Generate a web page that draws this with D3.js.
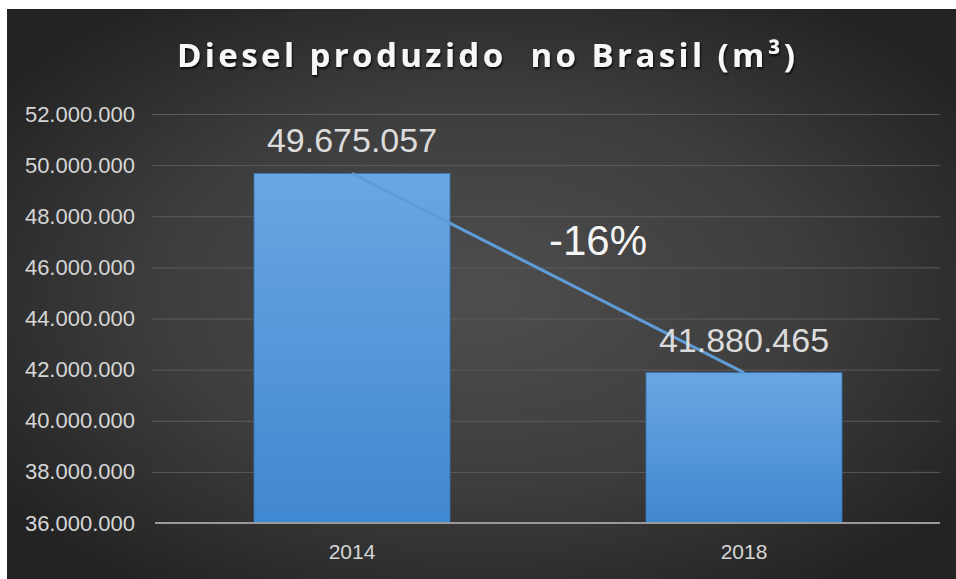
<!DOCTYPE html>
<html>
<head>
<meta charset="utf-8">
<script src="https://cdn.jsdelivr.net/npm/d3@7"></script>
<style>
    body { margin: 0; background: #fff; }
    svg { display: block; }
</style>
</head>
<body>
<div id="chart"></div>
<script>
    // data
    var years = ["2014", "2018"];
    var volumes = [49675057, 41880465];
    var yTicks = [36000000, 38000000, 40000000, 42000000, 44000000, 46000000, 48000000, 50000000, 52000000];
    var changeLabel = "-16%";
    var title = "Diesel produzido  no Brasil (m³)";

    var width = 956,
        height = 579,
        plotLeft = 152,
        plotRight = 940,
        plotTop = 114,
        plotBottom = 523;

    var br = d3.formatLocale({decimal: ",", thousands: ".", grouping: [3], currency: ["R$", ""]});
    var fmt = br.format(",d");

    var svg = d3.select("#chart")
        .append("svg")
        .attr("width", width)
        .attr("height", height);

    var defs = svg.append("defs");

    var bg = defs.append("radialGradient")
        .attr("id", "bg")
        .attr("cx", "50%").attr("cy", "50%").attr("r", "62%");
    bg.append("stop").attr("offset", "0%").attr("stop-color", "#4e4e4e");
    bg.append("stop").attr("offset", "55%").attr("stop-color", "#3d3d3d");
    bg.append("stop").attr("offset", "100%").attr("stop-color", "#232323");

    var barGrad = defs.append("linearGradient")
        .attr("id", "barGrad")
        .attr("x1", 0).attr("y1", 0).attr("x2", 0).attr("y2", 1);
    barGrad.append("stop").attr("offset", "0%").attr("stop-color", "#6aa6e1");
    barGrad.append("stop").attr("offset", "100%").attr("stop-color", "#4088d1");

    var shadow = defs.append("filter").attr("id", "shadow")
        .attr("x", "-10%").attr("y", "-30%").attr("width", "120%").attr("height", "160%");
    shadow.append("feDropShadow")
        .attr("dx", 1).attr("dy", 2).attr("stdDeviation", 1.2)
        .attr("flood-color", "#000").attr("flood-opacity", 0.8);

    // background
    svg.append("rect")
        .attr("x", 7).attr("y", 9)
        .attr("width", width - 7).attr("height", height - 9)
        .attr("fill", "url(#bg)");

    // scales
    var x = d3.scaleBand()
        .domain(years)
        .range([156, plotRight])
        .paddingInner(0.5)
        .paddingOuter(0.25);

    var y = d3.scaleLinear()
        .domain([36000000, 52000000])
        .range([plotBottom, plotTop]);

    // y axis + gridlines
    var yAxis = svg.append("g")
        .attr("transform", "translate(" + plotLeft + ",0)")
        .call(d3.axisLeft(y)
            .tickValues(yTicks)
            .tickSize(-(plotRight - plotLeft))
            .tickPadding(17)
            .tickFormat(fmt));

    yAxis.select(".domain").remove();
    yAxis.selectAll(".tick line")
        .attr("stroke", "#5c5c5c")
        .attr("stroke-width", 1)
        .filter(function (d) { return d === 36000000; })
        .remove();
    yAxis.selectAll(".tick text")
        .attr("fill", "#d6d6d6")
        .style("font-family", "'Liberation Sans', Arial, sans-serif")
        .style("font-size", "22px");

    // bars
    svg.selectAll(".bar")
        .data(volumes)
        .enter()
        .append("rect")
        .attr("class", "bar")
        .attr("x", function (d, i) { return x(years[i]); })
        .attr("y", function (d) { return y(d); })
        .attr("width", x.bandwidth())
        .attr("height", function (d) { return plotBottom - y(d); })
        .attr("fill", "url(#barGrad)")
        .attr("stroke", "#3a74b4")
        .attr("stroke-width", 0.8);

    // x axis line
    var xAxis = svg.append("g")
        .attr("transform", "translate(0," + plotBottom + ")")
        .call(d3.axisBottom(x).tickSize(0).tickPadding(21));

    xAxis.select(".domain")
        .attr("d", "M155,0H" + plotRight)
        .attr("stroke", "#9a9a9a")
        .attr("stroke-width", 2);
    xAxis.selectAll(".tick text")
        .attr("fill", "#d6d6d6")
        .style("font-family", "'Liberation Sans', Arial, sans-serif")
        .style("font-size", "21px");

    // trend line between bar tops
    var line = d3.line()
        .x(function (d, i) { return x(years[i]) + x.bandwidth() / 2; })
        .y(function (d) { return y(d); });

    svg.append("path")
        .datum(volumes)
        .attr("d", line)
        .attr("fill", "none")
        .attr("stroke", "#5f9bd6")
        .attr("stroke-width", 3);

    // value labels
    svg.selectAll(".val")
        .data(volumes)
        .enter()
        .append("text")
        .attr("class", "val")
        .attr("x", function (d, i) { return x(years[i]) + x.bandwidth() / 2; })
        .attr("y", function (d) { return y(d) - 21; })
        .attr("text-anchor", "middle")
        .attr("fill", "#dcdcdc")
        .style("font-family", "'Liberation Sans', Arial, sans-serif")
        .style("font-size", "34px")
        .text(function (d) { return fmt(d); });

    // change label
    var midX = (x(years[0]) + x(years[1]) + x.bandwidth()) / 2;
    svg.append("text")
        .attr("x", midX + 50)
        .attr("y", y(46500000))
        .attr("text-anchor", "middle")
        .attr("fill", "#f4f4f4")
        .style("font-family", "'Liberation Sans', Arial, sans-serif")
        .style("font-size", "42px")
        .text(changeLabel);

    // title
    svg.append("text")
        .attr("x", 177)
        .attr("y", 67)
        .attr("textLength", 618)
        .attr("lengthAdjust", "spacing")
        .attr("fill", "#f7f7f7")
        .attr("filter", "url(#shadow)")
        .style("font-family", "'Open Sans', Lato, sans-serif")
        .style("font-weight", "bold")
        .style("font-size", "33px")
        .style("white-space", "pre")
        .text(title);
</script>
</body>
</html>
